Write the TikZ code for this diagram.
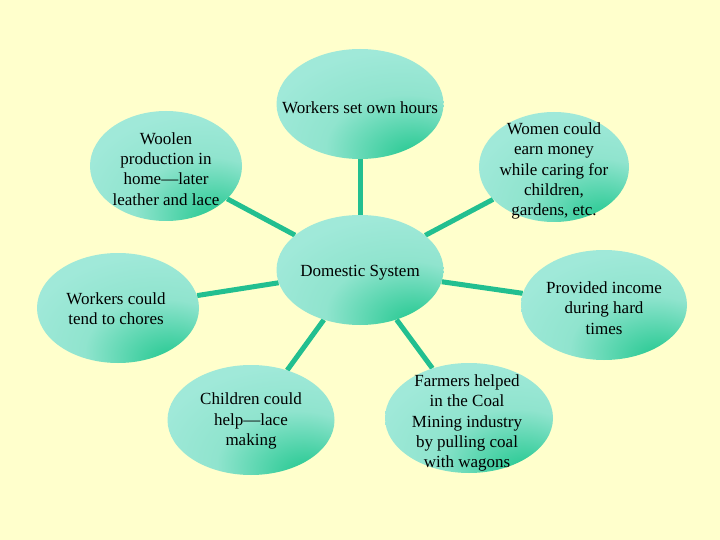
\documentclass[tikz,border=0pt]{standalone}
\usepackage{fontspec}
\setmainfont{Liberation Serif}
\usepackage{tikz}
\usetikzlibrary{shapes.geometric, backgrounds}
\definecolor{PageYellow}{HTML}{FFFFCC}
\definecolor{BubLight}{HTML}{A0E9D9}
\definecolor{BubMid}{HTML}{90E4CE}
\definecolor{BubDark}{HTML}{33CC99}
\definecolor{LinkTeal}{HTML}{22BF90}
\pgfdeclareradialshading{bubbleshade}{\pgfpoint{18bp}{-26bp}}{%
  color(0bp)=(BubDark); color(5bp)=(BubDark); color(24bp)=(BubMid);
  color(40bp)=(BubLight); color(100bp)=(BubLight)}

\begin{document}
\begin{tikzpicture}[x=1pt, y=-1pt,
  bubble/.style={ellipse, minimum width=#1, minimum height=110pt,
    inner sep=0pt, shading=bubbleshade},
  bubble/.default=167pt,
  txt/.style={align=center, inner sep=0pt,
    font=\fontsize{17}{20.3}\selectfont},
  link/.style={draw=LinkTeal, line width=5pt}
]
  % Bubbles
  \node[bubble] (hub) at (360,270) {};
  \node[bubble] (hours) at (360,104) {};
  \node[bubble=152pt] (wool) at (166,166) {};
  \node[bubble=150pt] (women) at (554,167) {};
  \node[bubble=162pt] (chores) at (118,308) {};
  \node[bubble=166pt] (income) at (604,305) {};
  \node[bubble] (kids) at (251,420) {};
  \node[bubble=168pt] (farm) at (469,418) {};

  % Texts
  \node[txt, yshift=-3pt] (hub-t) at (hub) {Domestic System};
  \node[txt, yshift=-3pt] (hours-t) at ([yshift=-1pt]hours.center) {Workers set own hours};
  \node[txt, yshift=-3pt] (wool-t) at (wool) {Woolen\\production in\\home---later\\leather and lace};
  \node[txt, yshift=-4pt] (women-t) at (women) {Women could\\earn money\\while caring for\\children,\\gardens, etc.};
  \node[txt, yshift=-1pt] (chores-t) at ([xshift=-2pt]chores.center) {Workers could\\tend to chores};
  \node[txt, yshift=-3pt] (income-t) at (income) {Provided income\\during hard\\times};
  \node[txt, yshift=-1pt] (kids-t) at (kids) {Children could\\help---lace\\making};
  \node[txt, yshift=-5pt] (farm-t) at ([xshift=-2pt]farm.center) {Farmers helped\\in the Coal\\Mining industry\\by pulling coal\\with wagons};

  \begin{scope}[on background layer]
    \fill[PageYellow] (0,0) rectangle (720,540);
    % Spokes
    \foreach \leaf in {hours, wool, women, chores, income, kids, farm}
      \draw[link] (hub) -- (\leaf);
  \end{scope}
\end{tikzpicture}
\end{document}
